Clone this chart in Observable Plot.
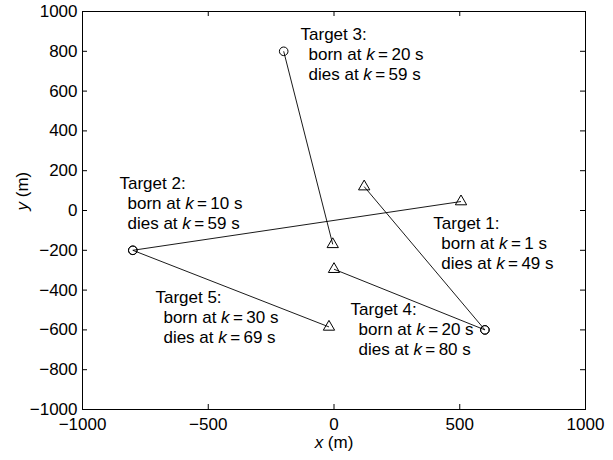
<!DOCTYPE html>
<html><head><meta charset="utf-8">
<script src="https://cdn.jsdelivr.net/npm/d3@7"></script>
<script src="https://cdn.jsdelivr.net/npm/@observablehq/plot@0.6"></script>
<style>body{margin:0;background:#fff} svg{display:block}</style>
</head><body><div id="chart"></div>
<script>
// ---- data ----
const targetNames = ["Target 1:", "Target 2:", "Target 3:", "Target 4:", "Target 5:"];
const bornK = [1, 10, 20, 20, 30];
const diesK = [49, 59, 59, 80, 69];
const startX = [600, -800, -200, 600, -800];
const startY = [-600, -200, 800, -600, -200];
const endX = [120, 505, -5, 0, -20];
const endY = [120, 45, -170, -295, -585];
const labelX = [395, -853, -133, 66, -710];
const labelY = [-95, 110, 855, -523, -467];
const xTicks = [-1000, -500, 0, 500, 1000];
const yTicks = [-1000, -800, -600, -400, -200, 0, 200, 400, 600, 800, 1000];

const W = 613, H = 460;
const mL = 82, mR = 28, mT = 11, mB = 51;
const iw = W - mL - mR, ih = H - mT - mB;
const FONT = "Liberation Sans, Arial, Helvetica, sans-serif";
const FS = 17;
const idx = targetNames.map((_, i) => i);
const T = 5; // tick length in px
const EQ = "\u2009=\u2009";

const plot = Plot.plot({
  width: W, height: H,
  marginLeft: mL, marginRight: mR, marginTop: mT, marginBottom: mB,
  style: {fontFamily: FONT, fontSize: FS + "px", color: "#000", background: "#fff"},
  x: {domain: [-1000, 1000]},
  y: {domain: [-1000, 1000]},
  marks: [
    Plot.frame({stroke: "#000", strokeWidth: 1}),
    // inward ticks
    Plot.tickX(xTicks, {x: d => d, insetTop: ih - T, stroke: "#000"}),
    Plot.tickX(xTicks, {x: d => d, insetBottom: ih - T, stroke: "#000"}),
    Plot.tickY(yTicks, {y: d => d, insetRight: iw - T, stroke: "#000"}),
    Plot.tickY(yTicks, {y: d => d, insetLeft: iw - T, stroke: "#000"}),
    Plot.axisX({ticks: xTicks, tickSize: 0, tickPadding: 8, tickFormat: d3.format("d"), label: null, fontSize: FS}),
    Plot.axisY({ticks: yTicks, tickSize: 0, tickPadding: 5, tickFormat: d3.format("d"), label: null, fontSize: FS}),
    // tracks
    Plot.link(idx, {x1: i => startX[i], y1: i => startY[i], x2: i => endX[i], y2: i => endY[i], stroke: "#000", strokeWidth: 0.9}),
    Plot.dot(idx, {x: i => startX[i], y: i => startY[i], symbol: "circle", r: 4.3, stroke: "#000", fill: "none", strokeWidth: 1}),
    Plot.dot(idx, {x: i => endX[i], y: i => endY[i], symbol: "triangle", r: 4.2, stroke: "#000", fill: "none", strokeWidth: 1}),
    // annotations
    Plot.text(idx, {x: i => labelX[i], y: i => labelY[i], text: i => targetNames[i], textAnchor: "start", lineAnchor: "bottom", fontSize: FS, fill: "#000"}),
    Plot.text(idx, {x: i => labelX[i], y: i => labelY[i], text: i => `born at k${EQ}${bornK[i]} s`, textAnchor: "start", lineAnchor: "bottom", dx: 8, dy: 20, fontSize: FS, fill: "#000"}),
    Plot.text(idx, {x: i => labelX[i], y: i => labelY[i], text: i => `dies at k${EQ}${diesK[i]} s`, textAnchor: "start", lineAnchor: "bottom", dx: 8, dy: 40, fontSize: FS, fill: "#000"}),
    // axis titles
    Plot.text(["x (m)"], {frameAnchor: "bottom", text: d => d, lineAnchor: "bottom", dy: 38, fontSize: FS, fill: "#000"}),
    Plot.text(["y (m)"], {frameAnchor: "left", text: d => d, lineAnchor: "bottom", rotate: -90, dx: -55, fontSize: FS, fill: "#000"})
  ]
});

document.getElementById("chart").appendChild(plot);

// italicize variable names
function italicize(el, re) {
  const s = el.textContent;
  const m = s.match(re);
  if (!m) return;
  const pre = s.slice(0, m.index), v = m[1], post = s.slice(m.index + v.length);
  el.textContent = "";
  el.appendChild(document.createTextNode(pre));
  const ts = document.createElementNS("http://www.w3.org/2000/svg", "tspan");
  ts.setAttribute("font-style", "italic");
  ts.textContent = v;
  el.appendChild(ts);
  el.appendChild(document.createTextNode(post));
}
plot.querySelectorAll("text").forEach(el => {
  const s = el.textContent;
  if (/ at k\u2009=\u2009/.test(s)) italicize(el, /(k)(?=\u2009=)/);
  else if (s === "x (m)") italicize(el, /^(x)/);
  else if (s === "y (m)") italicize(el, /^(y)/);
});
</script>
</body></html>
